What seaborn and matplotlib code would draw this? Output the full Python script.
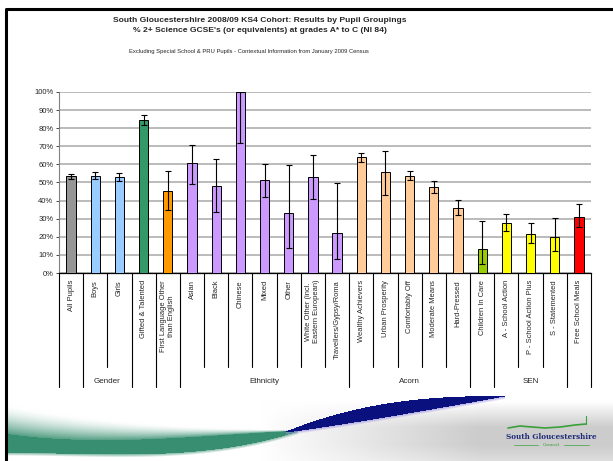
import numpy as np
import pandas as pd
import matplotlib
matplotlib.use("Agg")
import matplotlib.pyplot as plt
import matplotlib.transforms as mtransforms
import seaborn as sns

# bar values (% achieving 2+ science GCSEs A*-C) and confidence limits
categories = ["All Pupils", "Boys", "Girls", "Gifted & Talented",
              "First Language Other\nthan English", "Asian", "Black", "Chinese",
              "Mixed", "Other", "White Other (incl.\nEastern European)",
              "Travellers/Gypsy/Roma", "Wealthy Achievers", "Urban Prosperity",
              "Comfortably Off", "Moderate Means", "Hard-Pressed",
              "Children In Care", "A - School Action", "P - School Action Plus",
              "S - Statemented", "Free School Meals"]
values = [53.6, 53.8, 52.8, 84.8, 45.2, 60.8, 48.2, 100.0, 51.3, 33.4, 53.0,
          22.1, 64.1, 55.8, 53.8, 47.3, 35.9, 13.1, 27.4, 21.5, 19.7, 31.1]
err_low = [52.1, 51.9, 50.6, 82.0, 34.8, 49.2, 33.7, 71.8, 41.8, 14.0, 41.0,
           7.7, 61.3, 43.3, 51.4, 44.4, 31.9, 5.2, 23.2, 16.4, 12.0, 25.2]
err_high = [54.7, 55.8, 55.1, 87.1, 56.2, 70.9, 63.0, 100.0, 60.4, 59.9, 65.0,
            49.5, 66.5, 67.6, 56.2, 50.6, 40.3, 28.5, 32.4, 27.6, 30.4, 38.3]
bar_colors = ["#969696", "#99CCFF", "#99CCFF", "#339966", "#FF9900",
              "#CC99FF", "#CC99FF", "#CC99FF", "#CC99FF", "#CC99FF", "#CC99FF",
              "#CC99FF", "#FFCC99", "#FFCC99", "#FFCC99", "#FFCC99", "#FFCC99",
              "#99CC00", "#FFFF00", "#FFFF00", "#FFFF00", "#FF0000"]
# (group name, first index, last index)
groups = [("", 0, 0), ("Gender", 1, 2), ("", 3, 3), ("", 4, 4),
          ("Ethnicity", 5, 11), ("Acorn", 12, 16), ("", 17, 17),
          ("SEN", 18, 20), ("", 21, 21)]

df = pd.DataFrame({"label": categories, "value": values})

sns.set_style("white")
plt.rcParams['font.family'] = ['Liberation Sans', 'DejaVu Sans']

W, H = 613, 461
fig = plt.figure(figsize=(W / 100, H / 100), dpi=100)

# slide background decoration (swooshes at the bottom)
bg = fig.add_axes([0, 0, 1, 1], zorder=-5)
bg.set_xlim(0, W)
bg.set_ylim(H, 0)
bg.axis("off")

y0 = 385
X, Y = np.meshgrid(np.arange(W) + 0.5, np.arange(y0, H) + 0.5)
img = np.ones(X.shape + (3,))

# grey shading to the lower right
grey = 0.2 * np.clip((X - 260) / 220, 0, 1) * np.clip((Y - 402) / 25, 0, 1)
grey *= 1 - 0.35 * np.clip((Y - 445) / 16, 0, 1)
img -= grey[..., None]


def blend(img, alpha, color):
    alpha = np.clip(alpha, 0, 1)[..., None]
    return img * (1 - alpha) + np.array(color) * alpha


def smooth(kx, ky, x):
    p = np.polyfit(kx, ky, 3)
    return np.polyval(p, x)


# green band
kx = [0, 100, 200, 250, 296]
dark_top = smooth(kx, [433, 440, 437, 433, 431], X)
bot = smooth(kx, [453, 454, 452, 443, 432.5], X)
fade_top = smooth(kx, [403, 419, 427, 429, 430], X)
a_g = np.where((Y >= dark_top) & (Y <= bot), 1.0, 0.0)
fade = np.clip((Y - fade_top) / np.maximum(dark_top - fade_top, 1), 0, 1) ** 1.6
a_g = np.where(Y < dark_top, fade * 0.85, a_g)
a_g = np.where(Y > bot, np.clip(1 - (Y - bot) / 3, 0, 1) * 0.6, a_g)
a_g *= (X < 298)
a_g *= np.clip((X - 6) / 2, 0, 1)
img = blend(img, a_g, (0.22, 0.56, 0.44))

# blue band
t = np.clip((X - 286) / (505 - 286), 0, 1)
b_top = 431.5 - 35.5 * (1 - (1 - t) ** 2.5)
b_bot = 432.5 - 36 * t ** 1.1
inside = (Y >= b_top) & (Y <= b_bot) & (X > 286) & (X < 505)
fringe = (Y > b_bot) & (Y < b_bot + 3) & (X > 286) & (X < 505)
img = blend(img, fringe * (1 - (Y - b_bot) / 3) * 0.7, (0.6, 0.55, 0.88))
img = blend(img, inside * 1.0, (0.04, 0.07, 0.5))

bg.imshow(img, extent=(0, W, H, y0), origin="upper", aspect="auto",
          interpolation="bilinear", zorder=0)
bg.set_xlim(0, W)
bg.set_ylim(H, 0)
bg.plot([6, 6, W], [H, 9, 9], color="black", lw=2.2, solid_capstyle="butt",
        zorder=3)

# council logo
bg.plot([508, 520, 532, 545, 560, 575, 586], [428, 426, 427, 428, 427, 425, 424],
        color="#3aa03a", lw=1.2, zorder=3)
bg.plot([586, 586], [424, 416], color="#3aa03a", lw=0.8, zorder=3)
bg.text(551, 437, "South Gloucestershire", family="DejaVu Serif", weight="bold",
        fontsize=5.2, color="#1f2a78", ha="center", va="center", zorder=3)
bg.text(551, 445, "Council", family="DejaVu Serif", fontsize=3.2,
        color="#3aa03a", ha="center", va="center", zorder=3)
bg.plot([514, 538], [445, 445], color="#3aa03a", lw=0.5, zorder=3)
bg.plot([564, 589], [445, 445], color="#3aa03a", lw=0.5, zorder=3)

# titles
fig.text(260 / W, 1 - 21 / H,
         "South Gloucestershire 2008/09 KS4 Cohort: Results by Pupil Groupings",
         ha="center", va="center", fontsize=6.1, weight="bold")
fig.text(260 / W, 1 - 31 / H,
         "% 2+ Science GCSE's (or equivalents) at grades A* to C (NI 84)",
         ha="center", va="center", fontsize=6.1, weight="bold")
fig.text(249 / W, 1 - 52 / H,
         "Excluding Special School & PRU Pupils - Contextual Information from January 2009 Census",
         ha="center", va="center", fontsize=4.2)

# main chart
ax = fig.add_axes([59 / W, 1 - 273 / H, (591 - 59) / W, (273 - 92) / H])
ax.patch.set_alpha(0)
sns.barplot(data=df, x="label", y="value", hue="label", order=categories,
            palette=dict(zip(categories, bar_colors)), legend=False,
            saturation=1, width=0.38, edgecolor="black", linewidth=0.7,
            ax=ax, zorder=3)
pos = np.arange(len(categories))
vals = np.array(values)
yerr = np.vstack([vals - np.array(err_low), np.array(err_high) - vals])
ax.errorbar(pos, vals, yerr=yerr, fmt="none", ecolor="black", elinewidth=0.8,
            capsize=2, capthick=0.8, zorder=4)

ax.set_xlim(-0.5, len(categories) - 0.5)
ax.set_ylim(0, 100)
ax.set_yticks(np.arange(0, 101, 10))
ax.set_yticklabels([f"{v}%" for v in range(0, 101, 10)], fontsize=5.5)
ax.yaxis.grid(True, color="#a8a8a8", lw=1.1, zorder=0)
ax.set_axisbelow(True)
ax.set_xticks(pos)
ax.set_xticklabels(categories, rotation=90, fontsize=5.4, va="top",
                   ha="center", multialignment="center")
ax.tick_params(axis="x", length=0, pad=5)
ax.tick_params(axis="y", length=2, width=0.6, pad=2, left=True)
ax.set_xlabel("")
ax.set_ylabel("")
for s in ["top", "right"]:
    ax.spines[s].set_visible(False)
ax.spines["left"].set_color("#808080")
ax.spines["left"].set_linewidth(0.8)
ax.spines["bottom"].set_color("black")
ax.spines["bottom"].set_linewidth(0.9)

# category table below the axis
trans = mtransforms.blended_transform_factory(ax.transData, ax.transAxes)
short_y, long_y, grp_y = -94 / 181, -114 / 181, -108 / 181
long_edges = set()
for name, a, b in groups:
    long_edges.add(a - 0.5)
    long_edges.add(b + 0.5)
    if name:
        ax.text((a + b) / 2, grp_y, name, transform=trans, ha="center",
                va="center", fontsize=5.8)
for i in range(len(categories) + 1):
    xe = i - 0.5
    yb = long_y if xe in long_edges else short_y
    ax.plot([xe, xe], [0, yb], transform=trans, color="black", lw=0.8,
            clip_on=False)

fig.savefig("out.png", dpi=100)
